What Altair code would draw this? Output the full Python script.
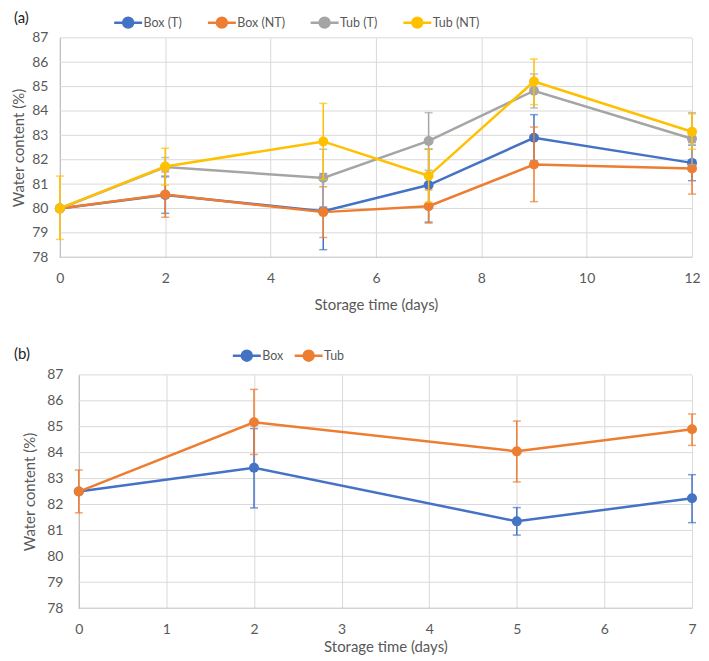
import altair as alt
import pandas as pd

# ---------------- Panel (a) data ----------------
days_a = [0, 2, 5, 7, 9, 12]
series_a = ["Box (T)", "Box (NT)", "Tub (T)", "Tub (NT)"]
colors_a = ["#4472C4", "#ED7D31", "#A5A5A5", "#FFC000"]

box_t = [80.0, 80.55, 79.89, 80.96, 82.90, 81.87]
box_t_lo = [80.0, 79.80, 78.31, 79.44, 81.95, 81.14]
box_t_hi = [80.0, 81.30, 81.43, 82.43, 83.85, 82.60]

box_nt = [80.0, 80.57, 79.85, 80.09, 81.80, 81.64]
box_nt_lo = [80.0, 79.64, 78.81, 79.40, 80.28, 80.59]
box_nt_hi = [80.0, 81.50, 80.89, 80.76, 83.34, 82.70]

tub_t = [80.0, 81.70, 81.25, 82.77, 84.83, 82.86]
tub_t_lo = [80.0, 81.34, 80.07, 81.57, 84.12, 81.80]
tub_t_hi = [80.0, 82.09, 82.43, 83.93, 85.52, 83.93]

tub_nt = [80.0, 81.72, 82.75, 81.34, 85.21, 83.15]
tub_nt_lo = [78.73, 80.96, 81.19, 80.25, 84.26, 82.43]
tub_nt_hi = [81.33, 82.47, 84.31, 82.43, 86.13, 83.88]

# ---------------- Panel (b) data ----------------
days_b = [0, 2, 5, 7]
series_b = ["Box", "Tub"]
colors_b = ["#4472C4", "#ED7D31"]

box = [82.50, 83.42, 81.35, 82.24]
box_lo = [82.50, 81.87, 80.82, 81.30]
box_hi = [82.50, 84.93, 81.88, 83.15]

tub = [82.50, 85.17, 84.05, 84.90]
tub_lo = [81.68, 83.93, 82.87, 84.28]
tub_hi = [83.33, 86.44, 85.22, 85.49]

y_ticks = [78, 79, 80, 81, 82, 83, 84, 85, 86, 87]
x_ticks_a = [0, 2, 4, 6, 8, 10, 12]
x_ticks_b = [0, 1, 2, 3, 4, 5, 6, 7]


def make_df(days, names, vals, los, his):
    rows = []
    for name, v, lo, hi in zip(names, vals, los, his):
        for d, vv, l, h in zip(days, v, lo, hi):
            rows.append({"day": d, "series": name, "value": vv, "lo": l, "hi": h})
    return pd.DataFrame(rows)


df_a = make_df(days_a, series_a,
               [box_t, box_nt, tub_t, tub_nt],
               [box_t_lo, box_nt_lo, tub_t_lo, tub_nt_lo],
               [box_t_hi, box_nt_hi, tub_t_hi, tub_nt_hi])
df_b = make_df(days_b, series_b, [box, tub], [box_lo, tub_lo], [box_hi, tub_hi])

FONT = "Lato"
GREY_TXT = "#595959"
GRID = "#d9d9d9"
DOMAIN = "#bfbfbf"
LEGEND_SYM = "M-2.8,0L2.8,0M-1,0A1,1,0,1,0,1,0A1,1,0,1,0,-1,0"


def panel(df, names, colors, xdom, xticks, w, h, shift, label, lx, ly, colpad,
          ypad, ytpad, xlpad, xtpad, tdx, toff):
    legend = alt.Legend(title=None, orient="none", legendX=lx, legendY=ly,
                        direction="horizontal", columns=len(names),
                        symbolType=LEGEND_SYM, symbolSize=100, symbolStrokeWidth=2.5,
                        symbolOpacity=1,
                        labelFontSize=12.5, labelColor=GREY_TXT, labelFont=FONT,
                        columnPadding=colpad, labelOffset=9)
    color = alt.Color("series:N", scale=alt.Scale(domain=names, range=colors), legend=legend)
    xscale = alt.Scale(domain=xdom, nice=False, range=[shift, w])
    yscale = alt.Scale(domain=[78, 87], nice=False, zero=False)
    xaxis = alt.Axis(values=xticks, title="Storage time (days)", labelPadding=xlpad,
                     titlePadding=xtpad, labelFlush=False, labelOverlap=False,
                     domain=False, grid=True)
    yaxis = alt.Axis(values=y_ticks, title="Water content (%)", labelPadding=ypad,
                     titlePadding=ytpad, labelFlush=False, labelOverlap=False,
                     grid=False, offset=-shift)

    def X(f):
        return alt.X(f, scale=xscale, axis=xaxis)

    def Y(f):
        return alt.Y(f, scale=yscale, axis=yaxis)

    grid_df = pd.DataFrame({"tick": y_ticks, "x0": xdom[0], "x1": xdom[1]})
    grid = alt.Chart(grid_df).mark_rule(strokeWidth=1).encode(
        x=X("x0:Q"), x2="x1:Q", y=Y("tick:Q"),
        color=alt.condition(alt.datum.tick == 78, alt.value(DOMAIN), alt.value(GRID)))

    layers = [grid]
    for name in names:
        base = alt.Chart(df).transform_filter(alt.datum.series == name)
        rule = base.mark_rule(strokeWidth=1.5).encode(x=X("day:Q"), y=Y("lo:Q"), y2="hi:Q",
                                                      color=color)
        cap_lo = base.mark_tick(orient="horizontal", size=8, thickness=1.5).encode(
            x=X("day:Q"), y=Y("lo:Q"), color=color)
        cap_hi = base.mark_tick(orient="horizontal", size=8, thickness=1.5).encode(
            x=X("day:Q"), y=Y("hi:Q"), color=color)
        line = base.mark_line(strokeWidth=2.5).encode(x=X("day:Q"), y=Y("value:Q"), color=color)
        pts = base.mark_point(filled=True, size=100, opacity=1).encode(
            x=X("day:Q"), y=Y("value:Q"), color=color)
        layers += [rule, cap_lo, cap_hi, line, pts]
    return alt.layer(*layers).properties(
        width=w, height=h,
        title=alt.TitleParams(label, anchor="start", frame="group", dx=tdx, fontSize=15,
                              fontWeight="normal", font=FONT, color="#222222", offset=toff)
    )


pa = panel(df_a, series_a, colors_a, [0, 12], x_ticks_a, 634, 220, 0, "(a)",
           lx=62, ly=-22, colpad=20, ypad=12, ytpad=5, xlpad=14, xtpad=12, tdx=-46, toff=-10)
pb = panel(df_b, series_b, colors_b, [0, 7], x_ticks_b, 634, 234, 19, "(b)",
           lx=181, ly=-26, colpad=5, ypad=16, ytpad=9, xlpad=14, xtpad=3, tdx=-46, toff=-13)

chart = alt.vconcat(pa, pb, spacing=35).resolve_scale(
    color="independent").properties(
    padding={"left": 3, "top": 2, "right": 0, "bottom": 0}
).configure_view(stroke=None).configure_axis(
    gridColor=GRID, gridWidth=1, domainColor=DOMAIN, domainWidth=1.2,
    ticks=False, labelFont=FONT, labelFontSize=14, labelColor=GREY_TXT,
    titleFont=FONT, titleFontSize=15, titleFontWeight="normal", titleColor=GREY_TXT
)

chart.save("out.html", embed_options={"renderer": "svg", "actions": False})
